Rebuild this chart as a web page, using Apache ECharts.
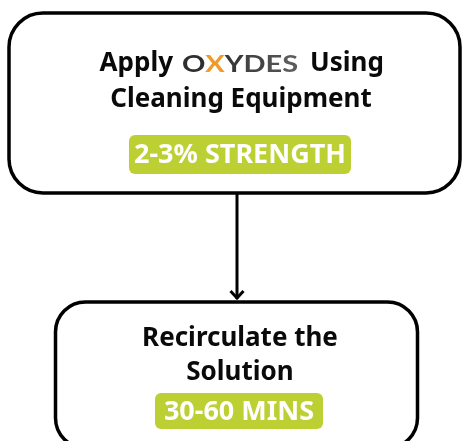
<!DOCTYPE html>
<html>
<head>
<meta charset="utf-8">
<script src="https://cdn.jsdelivr.net/npm/echarts@6/dist/echarts.min.js"></script>
<style>
  html, body { margin: 0; padding: 0; background: #fff; }
  #main { width: 462px; height: 441px; }
</style>
</head>
<body>
<div id="main"></div>
<script>
// flow steps (text only)
var stepLines = [
    ['Apply', 'Cleaning Equipment'],
    ['Recirculate the', 'Solution']
];
var badgeTexts = ['2-3% STRENGTH', '30-60 MINS'];
var brandLetters = ['O', 'X', 'Y', 'D', 'E', 'S'];
var brandColors = ['#2e2e2e', '#ee9b2a', '#383838', '#444444', '#4f4f4f', '#5b5b5b'];

var FONT = '"Noto Sans", sans-serif';
var GREEN = '#bdd033';

function txt(s, x, y, size, color, align) {
    return {
        type: 'text',
        style: {
            text: s, x: x, y: y,
            fill: color || '#0a0a0a',
            fontSize: size || 26,
            fontWeight: 'bold',
            fontFamily: FONT,
            textAlign: align || 'center',
            textVerticalAlign: 'middle'
        }
    };
}

// brand word, each letter its own colour
var brandRich = {};
var brandStr = '';
for (var i = 0; i < brandLetters.length; i++) {
    brandRich['c' + i] = {
        fill: brandColors[i],
        fontSize: 23,
        fontWeight: 'bold',
        fontFamily: 'Lato, sans-serif'
    };
    brandStr += '{c' + i + '|' + brandLetters[i] + '}';
}

var elements = [
    // top box
    {
        type: 'rect',
        shape: { x: 9, y: 13, width: 451, height: 180, r: 34 },
        style: { fill: '#fff', stroke: '#000', lineWidth: 3.5 }
    },
    // bottom box
    {
        type: 'rect',
        shape: { x: 55.5, y: 302, width: 362, height: 146, r: 30 },
        style: { fill: '#fff', stroke: '#000', lineWidth: 3.5 }
    },
    // arrow
    {
        type: 'line',
        shape: { x1: 237, y1: 194, x2: 237, y2: 299 },
        style: { stroke: '#000', lineWidth: 3 }
    },
    {
        type: 'polyline',
        shape: { points: [[230.5, 291], [237, 298], [243.5, 291]] },
        style: { stroke: '#000', lineWidth: 3, fill: null }
    },
    // badges
    {
        type: 'rect',
        shape: { x: 129, y: 135, width: 222, height: 39, r: 6 },
        style: { fill: GREEN }
    },
    {
        type: 'rect',
        shape: { x: 155, y: 393, width: 168, height: 36, r: 6 },
        style: { fill: GREEN }
    },
    // step 1 text
    txt(stepLines[0][0], 173, 63.5, 26, null, 'right'),
    {
        type: 'text',
        x: 240, y: 64.5,
        scaleX: 1.26,
        style: {
            text: brandStr,
            rich: brandRich,
            x: 0, y: 0,
            textAlign: 'center',
            textVerticalAlign: 'middle'
        }
    },
    txt('Using', 310, 63.5, 26, null, 'left'),
    txt(stepLines[0][1], 241, 99.5),
    txt(badgeTexts[0], 240, 155, 27, '#fff'),
    // step 2 text
    txt(stepLines[1][0], 240, 339),
    txt(stepLines[1][1], 240, 373),
    txt(badgeTexts[1], 239, 412.5, 27, '#fff')
];

var chart = echarts.init(document.getElementById('main'));
chart.setOption({
    backgroundColor: '#fff',
    graphic: { elements: elements }
});
</script>
</body>
</html>
